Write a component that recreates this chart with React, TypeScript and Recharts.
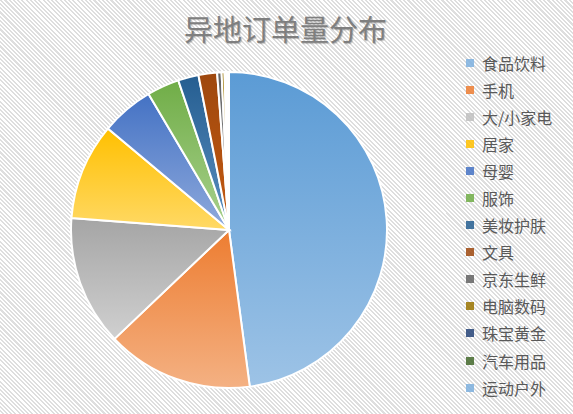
import React from 'react';
import { PieChart, Pie, Cell } from 'recharts';

const CATEGORIES = ['食品饮料', '手机', '大/小家电', '居家', '母婴', '服饰', '美妆护肤', '文具', '京东生鲜', '电脑数码', '珠宝黄金', '汽车用品', '运动户外'];
const ORDERS = [47.9, 15.0, 13.3, 9.9, 5.4, 3.3, 2.1, 1.9, 0.45, 0.3, 0.2, 0.15, 0.1];
const COLORS = ['#5b9bd5', '#ed7d31', '#a5a5a5', '#ffc000', '#4472c4', '#70ad47', '#255e91', '#9e480e', '#636363', '#997300', '#264478', '#43682b', '#7cafdd'];
const LIGHT = ['#9dc3e6', '#f4b183', '#d0d0d0', '#ffd966', '#8faadc', '#a9d18e', '#5b8fc0', '#c55a11', '#999999', '#c9a100', '#4a6aa8', '#6d9a4c', '#b4d3ee'];

const data = CATEGORIES.map((name, i) => ({ name, value: ORDERS[i] }));

const font = '"Microsoft YaHei", "Noto Sans CJK SC", sans-serif';

function LegendList() {
  return (
    <div style={{ position: 'absolute', left: 466, top: 49, fontFamily: font }}>
      {CATEGORIES.map((c, i) => (
        <div key={c} style={{ height: 27.1, display: 'flex', alignItems: 'center' }}>
          <span style={{ width: 8, height: 8, background: i === 0 ? '#7eb0df' : i === 2 ? '#bfbfbf' : COLORS[i], opacity: 0.85, marginRight: 8 }} />
          <span style={{ fontSize: 16, color: '#595959' }}>{c}</span>
        </div>
      ))}
    </div>
  );
}

export default function App() {
  return (
    <div
      style={{
        position: 'fixed',
        left: 0,
        top: 0,
        width: 573,
        height: 414,
        background: 'repeating-linear-gradient(45deg, #ffffff 0px, #ffffff 1.5px, #dedede 1.5px, #dedede 3px)',
      }}
    >
      <div
        style={{
          position: 'absolute',
          left: 0,
          width: 571,
          top: 7,
          textAlign: 'center',
          fontFamily: font,
          fontSize: 29,
          color: '#7f7f7f',
          textShadow: '1px 1px 1px rgba(0,0,0,0.25)',
        }}
      >
        异地订单量分布
      </div>
      <PieChart width={573} height={414} margin={{ top: 0, right: 0, bottom: 0, left: 0 }} style={{ position: 'absolute', left: 0, top: 0 }}>
        <defs>
          {COLORS.map((c, i) => (
            <linearGradient key={i} id={`g${i}`} x1="0" y1="0" x2="0" y2="1">
              <stop offset="0%" stopColor={c} />
              <stop offset="100%" stopColor={LIGHT[i]} />
            </linearGradient>
          ))}
        </defs>
        <Pie
          data={data}
          dataKey="value"
          nameKey="name"
          cx={229}
          cy={230}
          outerRadius={158}
          startAngle={90}
          endAngle={-270}
          stroke="#ffffff"
          strokeWidth={2}
          isAnimationActive={false}
        >
          {data.map((d, i) => (
            <Cell key={d.name} fill={`url(#g${i})`} />
          ))}
        </Pie>
      </PieChart>
      <LegendList />
    </div>
  );
}
